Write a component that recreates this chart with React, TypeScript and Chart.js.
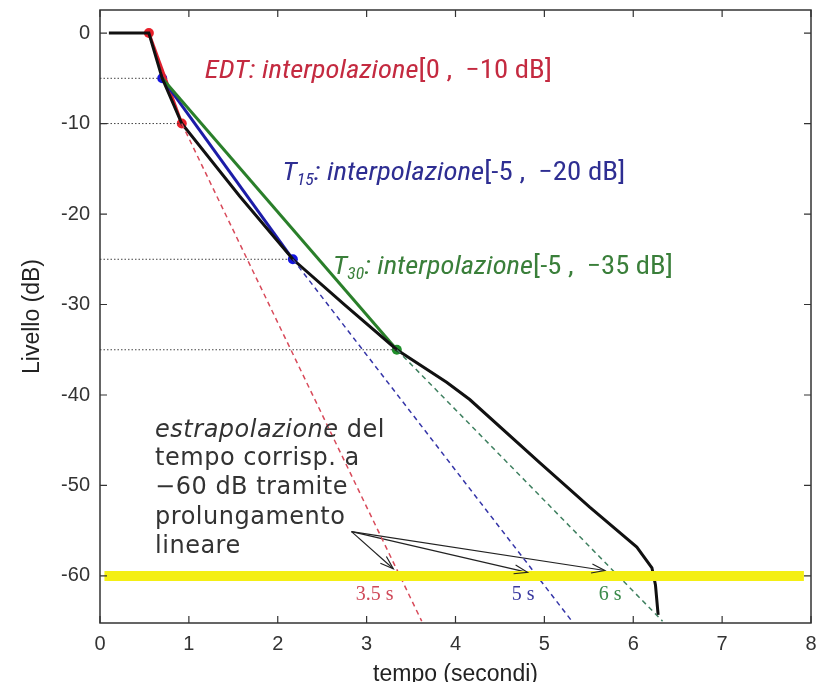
import React, { useEffect, useRef } from "react";
import { Chart, registerables } from "chart.js";

Chart.register(...registerables);

// ---- data ----
const xTicks = [0, 1, 2, 3, 4, 5, 6, 7, 8];
const yTicks = [0, -10, -20, -30, -40, -50, -60];

// Schroeder decay curve
const decayX = [0.1, 0.55, 0.7, 0.92, 1.57, 2.17, 2.75, 3.34, 3.9, 4.16, 4.95, 5.51, 6.04, 6.21, 6.25, 6.28];
const decayY = [0, 0, -5, -10, -18, -25, -30, -35, -38.6, -40.5, -47.5, -52.4, -56.8, -59.1, -61, -64.3];

// EDT fit + extrapolation
const edtFitX = [0.55, 0.92];
const edtFitY = [0, -10];
const edtExtX = [0.92, 3.62];
const edtExtY = [-10, -65];
const edtPtsX = [0.55, 0.92, 3.37];
const edtPtsY = [0, -10, -60];

// T15 fit + extrapolation
const t15FitX = [0.7, 2.17];
const t15FitY = [-5, -25];
const t15ExtX = [2.17, 5.31];
const t15ExtY = [-25, -65];
const t15PtsX = [0.7, 2.17, 4.89];
const t15PtsY = [-5, -25, -60];

// T30 fit + extrapolation
const t30FitX = [0.7, 3.34];
const t30FitY = [-5, -35];
const t30ExtX = [3.34, 6.33];
const t30ExtY = [-35, -65];
const t30PtsX = [3.34, 5.83];
const t30PtsY = [-35, -60];

// dotted reference levels
const refLevels = [-5, -10, -25, -35];
const refEnds = [0.7, 0.92, 2.17, 3.34];

// -60 dB line
const yellowX = [0.05, 7.92];
const yellowLevel = -60;

// arrows
const arrowOrigin = [2.83, -55.1];
const arrowTipX = [3.3, 4.81, 5.68];
const arrowTipY = [-59.2, -59.6, -59.4];

// result labels
const resultLabels = ["3.5 s", "5 s", "6 s"];
const resultX = [3.09, 4.76, 5.74];
const resultY = -62.1;

const zip = (xs: number[], ys: number[]) => xs.map((x, i) => ({ x, y: ys[i] }));

type Seg = { t: string; italic?: boolean; sub?: boolean };

function drawRich(
  ctx: CanvasRenderingContext2D,
  segs: Seg[],
  x: number,
  y: number,
  size: number,
  family: string,
  color: string,
  targetW: number
) {
  ctx.save();
  ctx.fillStyle = color;
  ctx.textBaseline = "middle";
  ctx.textAlign = "left";
  const fontOf = (s: Seg) => `${s.italic ? "italic " : ""}${s.sub ? Math.round(size * 0.62) : size}px ${family}`;
  let total = 0;
  const widths = segs.map((s) => {
    ctx.font = fontOf(s);
    const w = ctx.measureText(s.t).width;
    total += w;
    return w;
  });
  const sx = targetW / total;
  ctx.translate(x, y);
  ctx.scale(sx, 1);
  let cx = 0;
  segs.forEach((s, i) => {
    ctx.font = fontOf(s);
    ctx.fillText(s.t, cx, s.sub ? size * 0.28 : 0);
    cx += widths[i];
  });
  ctx.restore();
}

const decorPlugin = {
  id: "decor",
  afterDatasetsDraw(chart: any) {
    const ctx: CanvasRenderingContext2D = chart.ctx;
    const xs = chart.scales.x;
    const ys = chart.scales.y;
    const px = (v: number) => xs.getPixelForValue(v);
    const py = (v: number) => ys.getPixelForValue(v);

    // arrowheads
    ctx.save();
    ctx.strokeStyle = "#222";
    ctx.lineWidth = 1.2;
    const ox = px(arrowOrigin[0]);
    const oy = py(arrowOrigin[1]);
    arrowTipX.forEach((tx, i) => {
      const x = px(tx);
      const y = py(arrowTipY[i]);
      const ang = Math.atan2(y - oy, x - ox);
      const L = 14;
      const a = 0.33;
      ctx.beginPath();
      ctx.moveTo(x - L * Math.cos(ang - a), y - L * Math.sin(ang - a));
      ctx.lineTo(x, y);
      ctx.lineTo(x - L * Math.cos(ang + a), y - L * Math.sin(ang + a));
      ctx.stroke();
    });
    ctx.restore();

    const fam = '"Liberation Sans Narrow", "Roboto Condensed", Roboto, "Liberation Sans", sans-serif';
    drawRich(
      ctx,
      [{ t: "EDT: interpolazione", italic: true }, { t: "[0 ,  \u221210 dB]" }],
      px(1.18), py(-4.3), 26, fam, "#c42a40", 347
    );
    drawRich(
      ctx,
      [
        { t: "T", italic: true },
        { t: "15", italic: true, sub: true },
        { t: ": interpolazione", italic: true },
        { t: "[-5 ,  \u221220 dB]" },
      ],
      px(2.05), py(-15.5), 26, fam, "#2e2e92", 343
    );
    drawRich(
      ctx,
      [
        { t: "T", italic: true },
        { t: "30", italic: true, sub: true },
        { t: ": interpolazione", italic: true },
        { t: "[-5 ,  \u221235 dB]" },
      ],
      px(2.62), py(-25.9), 26, fam, "#3a7f3a", 340
    );

    // explanatory text
    ctx.save();
    ctx.fillStyle = "#333";
    ctx.textBaseline = "middle";
    ctx.textAlign = "left";
    (ctx as any).letterSpacing = "0.5px";
    const lx = px(0.62);
    const lineYs = [-43.9, -47.0, -50.3, -53.6, -56.8];
    const tf = '"DejaVu Sans", Verdana, sans-serif';
    ctx.font = `italic 24px ${tf}`;
    ctx.fillText("estrapolazione", lx, py(lineYs[0]));
    const w0 = ctx.measureText("estrapolazione").width;
    ctx.font = `24px ${tf}`;
    ctx.fillText(" del", lx + w0, py(lineYs[0]));
    ctx.fillText("tempo corrisp. a", lx, py(lineYs[1]));
    ctx.fillText("\u221260 dB tramite", lx, py(lineYs[2]));
    ctx.fillText("prolungamento", lx, py(lineYs[3]));
    ctx.fillText("lineare", lx, py(lineYs[4]));
    ctx.restore();

    // result labels
    ctx.save();
    ctx.textBaseline = "middle";
    ctx.textAlign = "center";
    ctx.font = '20px "Liberation Serif", "DejaVu Serif", serif';
    const rc = ["#d04a5a", "#3a3aa0", "#3a8a4a"];
    resultLabels.forEach((s, i) => {
      ctx.fillStyle = rc[i];
      ctx.fillText(s, px(resultX[i]), py(resultY));
    });
    ctx.restore();
  },
  afterDraw(chart: any) {
    const ctx: CanvasRenderingContext2D = chart.ctx;
    const { left, right, top, bottom } = chart.chartArea;
    const xs = chart.scales.x;
    const ys = chart.scales.y;
    ctx.save();
    ctx.strokeStyle = "#333";
    ctx.lineWidth = 1.5;
    ctx.strokeRect(left, top, right - left, bottom - top);
    ctx.lineWidth = 1.2;
    const T = 7;
    ctx.beginPath();
    xTicks.forEach((v) => {
      const x = xs.getPixelForValue(v);
      ctx.moveTo(x, bottom);
      ctx.lineTo(x, bottom - T);
      ctx.moveTo(x, top);
      ctx.lineTo(x, top + T);
    });
    yTicks.forEach((v) => {
      const y = ys.getPixelForValue(v);
      ctx.moveTo(left, y);
      ctx.lineTo(left + T, y);
      ctx.moveTo(right, y);
      ctx.lineTo(right - T, y);
    });
    ctx.stroke();
    ctx.restore();
  },
};

export default function App() {
  const ref = useRef<HTMLCanvasElement | null>(null);

  useEffect(() => {
    if (!ref.current) return;
    const line = (data: any[], color: string, width: number, dash: number[] = []) => ({
      data,
      borderColor: color,
      backgroundColor: color,
      borderWidth: width,
      borderDash: dash,
      pointRadius: 0,
      fill: false,
      tension: 0,
    });
    const pts = (data: any[], color: string) => ({
      data,
      showLine: false,
      pointRadius: 5,
      pointBackgroundColor: color,
      pointBorderColor: color,
      pointBorderWidth: 0,
      borderColor: color,
      backgroundColor: color,
    });

    const datasets: any[] = [
      line(zip(yellowX, [yellowLevel, yellowLevel]), "#f4ef14", 10),
      ...refLevels.map((lv, i) => line([{ x: 0, y: lv }, { x: refEnds[i], y: lv }], "#444", 1, [1.5, 2])),
      line(zip(edtExtX, edtExtY), "#d84a5a", 1.5, [5, 4]),
      line(zip(t15ExtX, t15ExtY), "#3535a8", 1.5, [5, 4]),
      line(zip(t30ExtX, t30ExtY), "#3f8060", 1.5, [5, 4]),
      ...arrowTipX.map((tx, i) => line([{ x: arrowOrigin[0], y: arrowOrigin[1] }, { x: tx, y: arrowTipY[i] }], "#222", 1.2)),
      line(zip(decayX, decayY), "#111", 3),
      line(zip(t30FitX, t30FitY), "#2a7f2a", 3),
      line(zip(t15FitX, t15FitY), "#1c1ca8", 3),
      line(zip(edtFitX, edtFitY), "#e0202e", 3),
      pts(zip(edtPtsX, edtPtsY), "#e8202a"),
      pts(zip(t15PtsX, t15PtsY), "#1414e0"),
      pts(zip(t30PtsX, t30PtsY), "#1f8f2a"),
    ];

    const tickFont = { family: '"Liberation Sans", Arial, sans-serif', size: 20 };
    const chart = new Chart(ref.current, {
      type: "line",
      data: { datasets },
      options: {
        animation: false,
        responsive: false,
        events: [],
        layout: { padding: { left: 0, top: 10, right: 6, bottom: 0 } },
        plugins: { legend: { display: false }, tooltip: { enabled: false } },
        scales: {
          x: {
            type: "linear",
            min: 0,
            max: 8,
            afterFit: (s: any) => {
              s.height = 59;
              s.paddingLeft = 0;
              s.paddingRight = 0;
            },
            afterBuildTicks: (s: any) => {
              s.ticks = xTicks.map((v) => ({ value: v }));
            },
            grid: { display: false, drawTicks: false },
            border: { display: false },
            ticks: { color: "#333", font: tickFont, padding: 9, maxRotation: 0 },
            title: {
              display: true,
              text: "tempo (secondi)",
              color: "#222",
              font: { family: '"Liberation Sans", Arial, sans-serif', size: 23, lineHeight: 1.2 },
              padding: { top: 0, bottom: -6 },
            },
          },
          y: {
            type: "linear",
            min: -65.2,
            max: 2.55,
            afterFit: (s: any) => {
              s.width = 100;
              s.paddingTop = 0;
              s.paddingBottom = 0;
            },
            afterBuildTicks: (s: any) => {
              s.ticks = yTicks.map((v) => ({ value: v }));
            },
            grid: { display: false, drawTicks: false },
            border: { display: false },
            ticks: { color: "#333", font: tickFont, padding: 10 },
            title: {
              display: true,
              text: "Livello (dB)",
              color: "#222",
              font: { family: '"Liberation Sans", Arial, sans-serif', size: 23, lineHeight: 1.2 },
              padding: { top: 19, bottom: 0 },
            },
          },
        },
      },
      plugins: [decorPlugin],
    } as any);
    return () => chart.destroy();
  }, []);

  return (
    <div style={{ position: "absolute", left: 0, top: 0, width: 817, height: 682, background: "#fff" }}>
      <canvas ref={ref} width={817} height={682} />
    </div>
  );
}
